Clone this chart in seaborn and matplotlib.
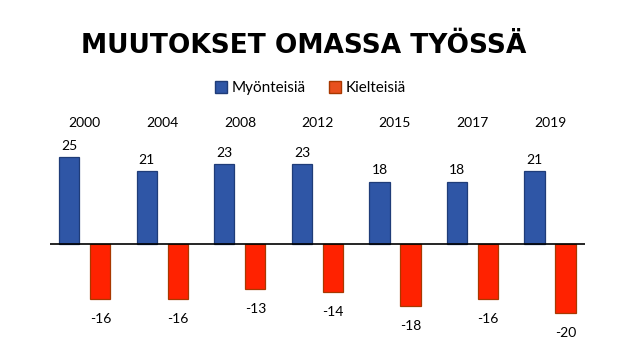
import pandas as pd
import matplotlib.pyplot as plt
import seaborn as sns
from matplotlib.patches import Patch

years = ["2000", "2004", "2008", "2012", "2015", "2017", "2019"]
myonteisia = [25, 21, 23, 23, 18, 18, 21]
kielteisia = [-16, -16, -13, -14, -18, -16, -20]

df = pd.DataFrame({
    "Vuosi": years * 2,
    "Arvo": myonteisia + kielteisia,
    "Sarja": ["Myönteisiä"] * len(years) + ["Kielteisiä"] * len(years),
})

sns.set_style("white")
plt.rcParams["font.family"] = ["Lato", "DejaVu Sans"]
plt.rcParams["text.color"] = "black"
plt.rcParams["xtick.color"] = "black"
plt.rcParams["xtick.labelcolor"] = "black"

fig = plt.figure(figsize=(6.4, 3.6), dpi=100)
ax = fig.add_axes([0.078, 0.083, 0.836, 0.528])

sns.barplot(data=df, x="Vuosi", y="Arvo", hue="Sarja",
            palette={"Myönteisiä": "#2F56A6", "Kielteisiä": "#FF2200"},
            saturation=1, gap=0.35, ax=ax, legend=False)

edges = ["#1F3C78", "#A83800"]
for cont, ec in zip(ax.containers, edges):
    for bar in cont:
        bar.set_edgecolor(ec)
        bar.set_linewidth(0.9)

ax.bar_label(ax.containers[0], padding=4, fontsize=10, color="black")
ax.bar_label(ax.containers[1], padding=10, fontsize=10, color="black")

ax.axhline(0, color="black", lw=1.2)
ax.set_ylim(-25, 30)
ax.set_xlim(-0.45, 6.45)
ax.xaxis.tick_top()
ax.tick_params(axis="x", length=0, pad=8, labelsize=10, labelcolor="black")
ax.set_yticks([])
ax.set_xlabel("")
ax.set_ylabel("")
sns.despine(ax=ax, left=True, bottom=True, top=True, right=True)

fig.text(0.474, 0.872, "MUUTOKSET OMASSA TYÖSSÄ", ha="center", va="center",
         fontsize=19, fontweight="bold", color="black", family=["DejaVu Sans"])

handles = [Patch(facecolor="#2F56A6", edgecolor="#1F3C78", label="Myönteisiä"),
           Patch(facecolor="#E8501E", edgecolor="#A83800", label="Kielteisiä")]
fig.legend(handles=handles, loc="center", bbox_to_anchor=(0.485, 0.755), ncol=2,
           frameon=False, fontsize=11, handlelength=0.8, handleheight=0.8,
           handletextpad=0.3, columnspacing=1.5, labelcolor="black")

fig.savefig("out.png", dpi=100)
